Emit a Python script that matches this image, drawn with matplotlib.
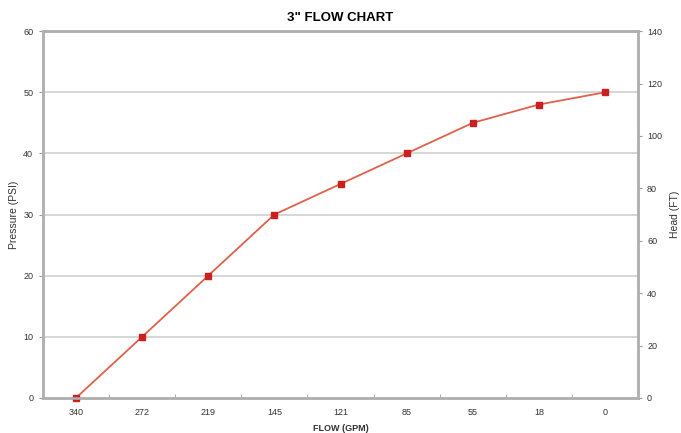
import matplotlib
matplotlib.use("Agg")
import matplotlib.pyplot as plt
import numpy as np

plt.rcParams['font.family'] = ['Liberation Sans', 'DejaVu Sans']

flow_labels = ["340", "272", "219", "145", "121", "85", "55", "18", "0"]
pressure = [0, 10, 20, 30, 35, 40, 45, 48, 50]
psi_ticks = [0, 10, 20, 30, 40, 50, 60]
head_ticks = [0, 20, 40, 60, 80, 100, 120, 140]

fig = plt.figure(figsize=(6.81, 4.33), dpi=100)
ax = fig.add_axes([0.063, 0.081, 0.874, 0.847])
x = np.arange(len(flow_labels))
ax.set_xlim(-0.5, len(flow_labels) - 0.5)
ax.set_ylim(0, 60)
ax.set_yticks(psi_ticks)
for y in psi_ticks[1:]:
    ax.axhline(y, color='#d0d0d0', lw=1.2, zorder=1)
ax.plot(x, pressure, color='#e0614a', lw=1.3, marker='s', markersize=4.5,
        markerfacecolor='#cc1f1f', markeredgecolor='#cc1f1f', zorder=3, clip_on=False)
ax.set_xticks(x)
ax.set_xticklabels(flow_labels)
ax.set_xticks(np.arange(-0.5, len(flow_labels)), minor=True)
ax.tick_params(axis='x', which='major', length=0, labelsize=6.5, colors='#333333', pad=7)
ax.tick_params(axis='x', which='minor', length=3, color='#999999', direction='in')
ax.tick_params(axis='y', labelsize=6.5, colors='#333333', length=3, color='#999999', pad=4)
for s in ax.spines.values():
    s.set_color('#b0b0b0')
    s.set_linewidth(1.8)
ax.set_xlabel("FLOW (GPM)", fontsize=6.5, fontweight='bold', color='#333333', labelpad=5)
ax.set_ylabel("Pressure (PSI)", fontsize=7.5, color='#333333', labelpad=3)

ax2 = ax.twinx()
ax2.set_ylim(0, 140)
ax2.set_yticks(head_ticks)
ax2.tick_params(axis='y', labelsize=6.5, colors='#333333', length=3, color='#999999')
for s in ax2.spines.values():
    s.set_color('#b0b0b0')
    s.set_linewidth(1.8)
ax2.set_ylabel("Head (FT)", fontsize=7.5, color='#333333', labelpad=6)

fig.text(0.5, 0.958, '3" FLOW CHART', ha='center', va='center', fontsize=9.5, fontweight='bold')
fig.savefig("out.png", dpi=100)
